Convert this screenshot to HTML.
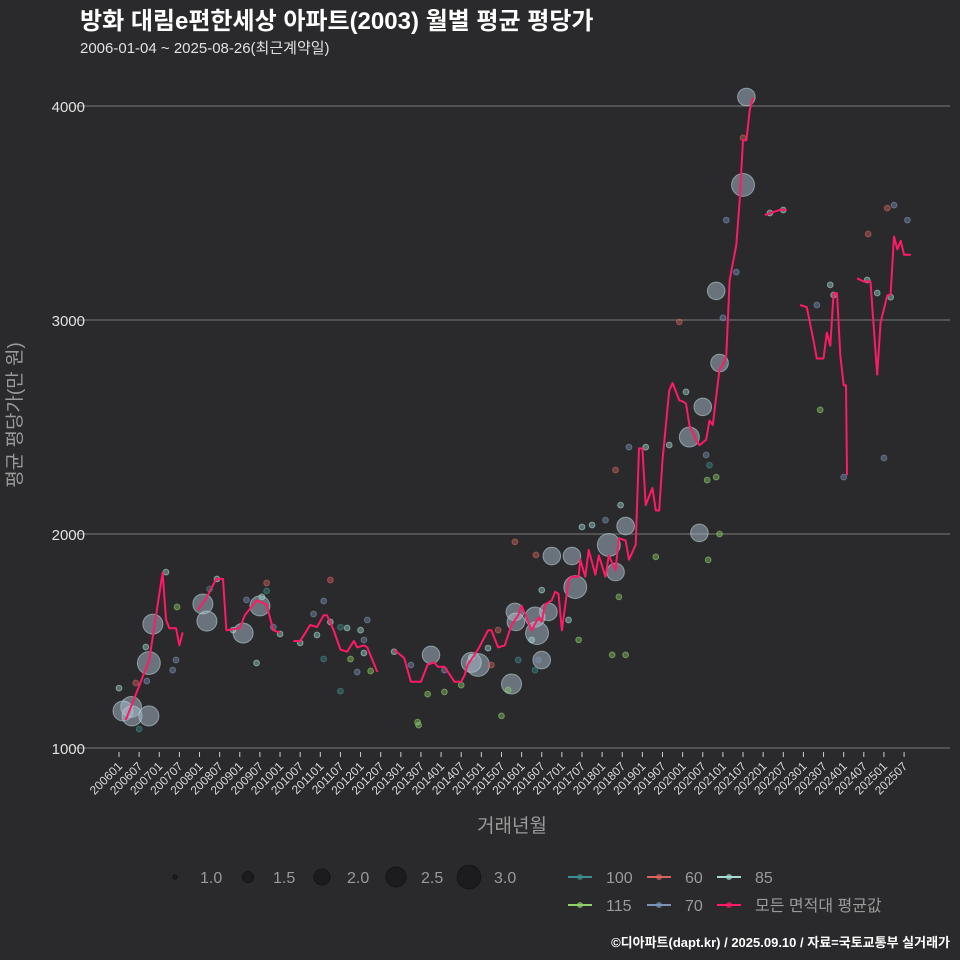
<!DOCTYPE html>
<html><head><meta charset="utf-8">
<style>
html,body{margin:0;padding:0;background:#2a2a2c;}
svg{display:block;font-family:"Liberation Sans","Noto Sans CJK KR",sans-serif;}
</style></head>
<body>
<svg id="chart" width="960" height="960" viewBox="0 0 960 960" xmlns="http://www.w3.org/2000/svg">
<rect x="0" y="0" width="960" height="960" fill="#2a2a2c"/>
<text x="80" y="29" fill="#ffffff" font-size="24" font-weight="bold">방화 대림e편한세상 아파트(2003) 월별 평균 평당가</text>
<text x="80" y="53" fill="#e0e0e0" font-size="15">2006-01-04 ~ 2025-08-26(최근계약일)</text>
<g id="grid"></g>
<g id="xaxis"></g>
<g id="bubbles"></g>
<g id="line"></g>
<text transform="translate(21,415) rotate(-90)" text-anchor="middle" fill="#9a9a9a" font-size="19">평균 평당가(만 원)</text>
<text x="512" y="832" text-anchor="middle" fill="#9a9a9a" font-size="19">거래년월</text>
<g id="legend"></g>
<text x="950" y="947" text-anchor="end" fill="#ffffff" font-size="13" font-weight="bold">©디아파트(dapt.kr) / 2025.09.10 / 자료=국토교통부 실거래가</text>
</svg>
<script>
// ---- data ----
const yTicks = [1000, 2000, 3000, 4000];
const xTickLabels = [];
for (let yr = 2006; yr <= 2025; yr++) { xTickLabels.push(yr + "01"); xTickLabels.push(yr + "07"); }
// average line: month index from 2006-01 (null = gap)
const lineMonths = [2,9,13,14,15,17,18,19,null,
 23.5,26,29,31,32,34,36,37.5,41,44,46,48,null,
 52,54,57,59,61,62,64,66,68,70,71,73,74,77,null,
 82,85,87,90,92,94,95,97,100,102,103,104,107,110,111,113,115,117,119,120,122,123,125,126,127,129,130,131,132,134,135,137,137.5,139,140,142,143,145,146,148,149,151,152,154,155,156,157,159,160,161,162,164,165,167,168,169,170,172,173,175,176,177,179,180,181,182,184,185,186,187,188,189,null,
 192.5,197,199,null,
 203,205,207,208,210,211,212,213,214,215,216,216.7,217,null,
 220,222,223,224,225,226,227,228,229,230,231,232,233,234,236];
const lineValues = [1130,1410,1820,1600,1560,1560,1480,1540,null,
 1645,1700,1790,1790,1550,1555,1560,1620,1690,1670,1550,1540,null,
 1500,1500,1575,1565,1620,1620,1550,1460,1450,1500,1470,1480,1470,1355,null,
 1460,1420,1310,1310,1390,1400,1380,1380,1310,1310,1340,1390,1460,1550,1550,1470,1480,1575,1620,1665,1590,1550,1610,1590,1670,1690,1730,1720,1550,1785,1800,1800,1880,1800,1925,1810,1900,1800,1900,1830,1980,1970,1880,1950,2400,2400,2135,2215,2110,2110,2345,2670,2705,2625,2620,2610,2510,2440,2415,2440,2530,2510,2770,2790,2835,3185,3350,3560,3840,3840,3980,4040,null,
 3490,3515,3515,null,
 3070,3060,2905,2820,2820,2940,2880,3125,3125,2835,2695,2695,2275,null,
 3195,3180,3180,3180,2955,2745,2990,3050,3115,3120,3390,3330,3370,3305,3305];
// bubbles: month index, value, size (legend units), area type
const bubbleMonths = [3.6,1.2,3.9,8.9,8.9,10.1,14,17.3,17,16,8,5,0,6,8.3,25,26.2,29.2,27,37,42,44,44,42.6,38,41,46,48,34,54,63,61,58,59,61,63,66,68,72,74,73,73,69,71,75,66,
 93,107,105,117,118,118.3,124,124.6,126,128,129,135,136,146,148,151,170,174,173,178,179,187,186,
 82,87,89,89.3,92,97,97,102,105,110,111,113,114,116,118,119,123,124,125,124.3,126,134,137,138,141,145,147,149,148,149.5,151,152,157,160,164,167,169,175,175.3,175.6,176,178,179,180,181,184,186,194,198,208,209,212,213,216,223,223.3,226,228,229,231,230,235,235.3];
const bubbleValues = [1192,1173,1150,1150,1397,1579,1822,1659,1411,1364,1472,1304,1280,1089,1313,1673,1593,1790,1743,1537,1664,1771,1734,1706,1692,1397,1565,1533,1551,1491,1785,1687,1626,1528,1416,1589,1565,1561,1551,1598,1505,1444,1416,1355,1360,1266,
 1435,1388,1400,1299,1636,1589,1612,1537,1411,1636,1897,1897,1752,1949,1822,2037,2453,2594,2005,3136,2799,4042,3631,
 1450,1388,1121,1107,1252,1262,1364,1294,1425,1467,1388,1551,1150,1271,1963,1411,1505,1364,1411,1902,1738,1598,1505,2033,2042,2065,1435,1706,2299,2135,1435,2406,2406,1893,2416,2991,2664,2369,2252,1879,2322,2266,2000,3010,3467,3224,3851,3500,3514,3070,2580,3164,3117,2266,3187,3402,3126,2355,3523,3537,3107,3467,3140];
const bubbleSizes = [2.6,2.5,2.5,2.5,2.9,2.5,1.1,1.1,1.1,1.1,1.1,1.1,1.1,1.1,1.1,2.5,2.5,1.1,1.1,2.5,2.5,1.1,1.1,1.1,1.1,1.1,1.1,1.1,1.1,1.1,1.1,1.1,1.1,1.1,1.1,1.1,1.1,1.1,1.1,1.1,1.1,1.1,1.1,1.1,1.1,1.1,
 2.2,2.9,2.5,2.5,2.2,2.2,2.5,2.9,2.2,2.2,2.2,2.2,2.9,2.9,2.2,2.2,2.5,2.2,2.2,2.2,2.2,2.2,2.9,
 1.1,1.1,1.1,1.1,1.1,1.1,1.1,1.1,1.1,1.1,1.1,1.1,1.1,1.1,1.1,1.1,1.1,1.1,1.1,1.1,1.1,1.1,1.1,1.1,1.1,1.1,1.1,1.1,1.1,1.1,1.1,1.1,1.1,1.1,1.1,1.1,1.1,1.1,1.1,1.1,1.1,1.1,1.1,1.1,1.1,1.1,1.1,1.1,1.1,1.1,1.1,1.1,1.1,1.1,1.1,1.1,1.1,1.1,1.1,1.1,1.1,1.1];
const bubbleTypes = ["100","85","85","70","85","85","85","115","70","70","85","60","85","100","70","70","85","85","100","85","70","60","100","85","70","85","70","85","85","85","60","70","70","85","100","85","100","85","85","70","70","85","115","70","115","100",
 "85","85","70","115","70","85","85","85","115","85","70","70","85","85","85","85","85","85","115","70","85","70","85",
 "85","70","115","115","115","115","70","115","85","85","60","60","115","115","60","100","85","100","70","60","85","85","115","85","85","70","115","115","60","85","115","70","85","115","85","60","85","70","115","115","100","115","115","70","70","70","60","85","85","70","115","85","85","70","85","60","85","70","60","70","85","70","115"];
const sizeLegendValues = [1.0, 1.5, 2.0, 2.5, 3.0];
const sizeLegendLabels = ["1.0", "1.5", "2.0", "2.5", "3.0"];
const typeLegendLabels = ["100", "60", "85", "115", "70", "모든 면적대 평균값"];

// ---- styles / scales ----
const colors = {"100":"#3d8f8f","60":"#d9645e","85":"#a6dcd6","115":"#8fd06a","70":"#7b93b8","avg":"#ff1a66"};
const legendColorKeys = ["100","60","85","115","70","avg"];
const NS = "http://www.w3.org/2000/svg";
const x0 = 119, monthW = 3.355;
const yBase = 748, pxPerUnit = 0.214;
function xScale(m) { return x0 + m * monthW; }
function yScale(v) { return yBase - (v - 1000) * pxPerUnit; }
function rScale(s) {
  const rs = [2.2, 5.5, 8, 10, 11.8];
  if (s <= 1) return rs[0];
  if (s >= 3) return rs[4];
  const i = Math.floor((s - 1) / 0.5), t = (s - 1 - i * 0.5) / 0.5;
  return rs[i] + (rs[i + 1] - rs[i]) * t;
}
function mk(tag, attrs, parent) {
  const el = document.createElementNS(NS, tag);
  for (const k in attrs) el.setAttribute(k, attrs[k]);
  parent.appendChild(el);
  return el;
}

const grid = document.getElementById("grid");
yTicks.forEach(v => {
  const ln = mk("line", {x1: 75, x2: 950, y1: yScale(v), y2: yScale(v), stroke: "#7a7a7a", "stroke-width": 1}, grid);
  
  
  const t = mk("text", {x: 85, y: yScale(v) + 6, "text-anchor": "end", fill: "#e0e0e0", "font-size": 15}, grid);
  
  
  t.textContent = v;
});

const xa = document.getElementById("xaxis");
xTickLabels.forEach((lab, i) => {
  const x = xScale(i * 6);
  const tk = mk("line", {x1: x, x2: x, y1: 752, y2: 757, stroke: "#cfcfcf", "stroke-width": 1}, xa);
  
  
  const t = mk("text", {x: 0, y: 0, "text-anchor": "end", fill: "#d8d8d8", "font-size": 12, transform: `translate(${x + 4},${767}) rotate(-45)`}, xa);
  
  
  t.textContent = lab;
});

const bg = document.getElementById("bubbles");
bubbleMonths.forEach((m, i) => {
  const c = colors[bubbleTypes[i]];
  const big = bubbleSizes[i] > 1.5;
  const circ = mk("circle", {cx: xScale(m), cy: yScale(bubbleValues[i]), r: rScale(bubbleSizes[i]),
    fill: big ? "#a9bccb" : c, "fill-opacity": big ? 0.5 : 0.4, stroke: big ? "#b8d2da" : c, "stroke-opacity": 0.6, "stroke-width": 1}, bg);
  
  
});

const lg = document.getElementById("line");
let seg = [];
function flush() {
  if (seg.length > 1) {
    const p = mk("polyline", {points: seg.join(" "), fill: "none", stroke: colors.avg, "stroke-width": 2, "stroke-linejoin": "round"}, lg);
    
    
  }
  seg = [];
}
lineMonths.forEach((m, i) => {
  if (m === null || lineValues[i] === null) { flush(); return; }
  seg.push(xScale(m).toFixed(1) + "," + yScale(lineValues[i]).toFixed(1));
});
flush();

const leg = document.getElementById("legend");
const sizeX = [175, 248, 322, 396, 469];
sizeLegendValues.forEach((s, i) => {
  const c = mk("circle", {cx: sizeX[i], cy: 877, r: rScale(s), fill: "#1c1c1e", stroke: "#151515"}, leg);
  
  
  const t = mk("text", {x: sizeX[i] + 25, y: 883, fill: "#9a9a9a", "font-size": 16}, leg);
  
  
  t.textContent = sizeLegendLabels[i];
});
const colX = [568, 647, 717];
typeLegendLabels.forEach((lab, i) => {
  const x = colX[i % 3], y = i < 3 ? 877 : 905;
  const c = colors[legendColorKeys[i]];
  const ln = mk("line", {x1: x, x2: x + 24, y1: y, y2: y, stroke: c, "stroke-width": 2}, leg);
  
  
  const d = mk("circle", {cx: x + 12, cy: y, r: 3, fill: c, "fill-opacity": 0.7}, leg);
  
  
  const t = mk("text", {x: x + 38, y: y + 6, fill: "#9a9a9a", "font-size": 16}, leg);
  
  
  t.textContent = lab;
});
</script>
</body></html>
